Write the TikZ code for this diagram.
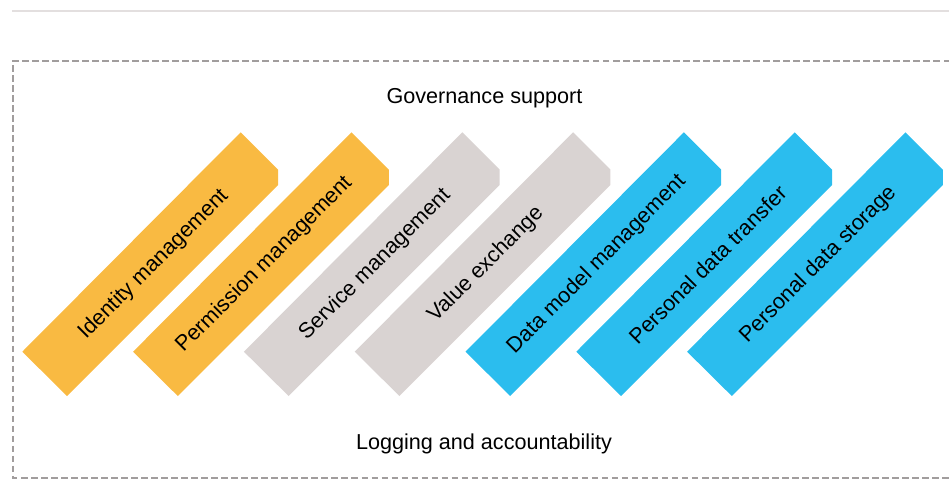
\documentclass[tikz,border=0pt]{standalone}
\usepackage{fontspec}
\setmainfont{Liberation Sans}
\usepackage{tikz}
\usetikzlibrary{calc}
\definecolor{bandorange}{HTML}{F9BA42}
\definecolor{bandgray}{HTML}{D9D3D2}
\definecolor{bandblue}{HTML}{2BBDEE}
\definecolor{framegray}{HTML}{A19D9D}
\definecolor{rulegray}{HTML}{E3DFDF}
\def\band[#1](#2)#3#4{\fill[#1] ($(#2)+(-218.4,219.4)$) -- (#2) -- ($(#2)+(37.3,37.3)$) -- ($(#2)+(37.3,52.7)$) -- ($(#2)+(-173.7,263.7)$) -- cycle;
	\node[rotate=45, font=\fontsize{12.3}{14}\selectfont] (#3) at ($(#2)+(-87.2,132.2)$) {#4};}

\begin{document}
\begin{tikzpicture}[x=0.02cm, y=-0.02cm]
		%%%%% START %%%%%
		\useasboundingbox (0, 0) rectangle (949, 480);
		
		\draw[line width=0.85pt, color=rulegray] (12, 11) -- (960, 11);
		\draw[line width=1.1pt, color=framegray, dash pattern=on 3.7pt off 2pt] (960, 61) -- (13, 61) -- (13, 478) -- (960, 478);
		
		\node[font=\fontsize{12.3}{14}\selectfont, anchor=base] (gov) at (484.5, 103.7) {Governance support};
		
		\band[bandorange](240.7, 132.3){identity}{Identity management}
		\band[bandorange](351.5, 132.3){permission}{Permission management}
		
		\band[bandgray](462.3, 132.3){service}{Service management}
		\band[bandgray](573.1, 132.3){value}{Value exchange}
		
		\band[bandblue](683.9, 132.3){datamodel}{Data model management}
		\band[bandblue](794.7, 132.3){transfer}{Personal data transfer}
		\band[bandblue](905.5, 132.3){storage}{Personal data storage}
		
		\node[font=\fontsize{12.3}{14}\selectfont, anchor=base] (logging) at (484, 449) {Logging and accountability};
		
		%%%%% END %%%%%
	\end{tikzpicture}
\end{document}
